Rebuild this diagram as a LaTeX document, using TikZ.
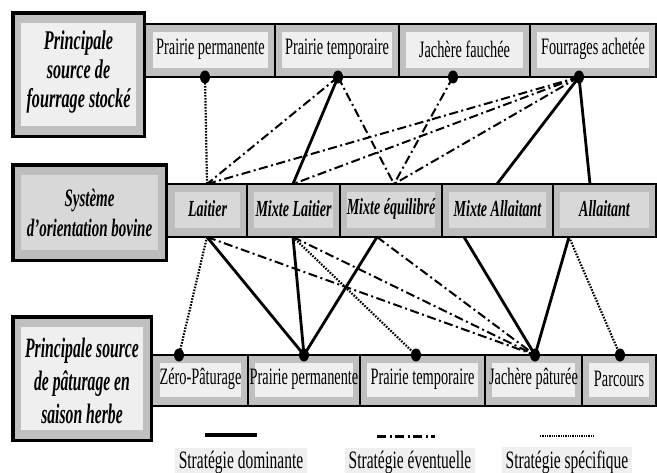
\documentclass[tikz,border=0pt]{standalone}
\usepackage{fontspec}
\setmainfont{Liberation Serif}
\newfontfamily\cf[FakeStretch=0.61]{Liberation Serif}
\newfontfamily\lf[FakeStretch=0.62]{Liberation Serif}
\newfontfamily\hfa[FakeStretch=0.6]{Liberation Serif}
\newfontfamily\hfb[FakeStretch=0.56]{Liberation Serif}
\usetikzlibrary{shapes.geometric}
\definecolor{band}{HTML}{C0C0C0}
\definecolor{light}{HTML}{EFEFEF}
\definecolor{mband}{HTML}{BDBDBD}
\definecolor{mlight}{HTML}{D8D8D8}
% #1 x1, #2 x2, #3 y1, #4 y2, #5 band, #6 light, #7 name, #8 style, #9 text
\newcommand{\mkcell}[9]{%
  \fill[#5] (#1,#3) rectangle (#2,#4);
  \fill[#6] ({#1+7},{#3+8}) rectangle ({#2-7},{#4-9});
  \node[#8] (#7) at ({(#1+#2)/2},{(#3+#4)/2-1.5}) {#9};
}
% #1 x1, #2 x2, #3 y1, #4 y2, #5 band, #6 light
\newcommand{\mkhead}[6]{%
  \fill[#5] (#1,#3) rectangle (#2,#4);
  \fill[#6] ({#1+10},{#3+12}) rectangle ({#2-10},{#4-12});
  \draw[line width=3.5pt] ({#1+1.75},{#3+1.75}) rectangle ({#2-1.75},{#4-1.75});
}
\begin{document}
\begin{tikzpicture}[x=1pt,y=-1pt,
  dom/.style={line width=2.8pt},
  evt/.style={line width=2pt, dash pattern=on 9pt off 3.5pt on 2pt off 3.5pt},
  spe/.style={line width=2.2pt, dash pattern=on 1.6pt off 1.4pt},
  dot/.style={ellipse, fill=black, minimum width=10pt, minimum height=13pt, inner sep=0pt},
  celltxt/.style={font=\cf\fontsize{23.5}{25}\selectfont, inner sep=0pt},
  midtxt/.style={font=\cf\bfseries\itshape\fontsize{23}{25}\selectfont, inner sep=0pt},
  headA/.style={align=center, inner sep=0pt, font=\hfa\bfseries\itshape\fontsize{27}{29}\selectfont},
  headB/.style={align=center, inner sep=0pt, font=\hfa\bfseries\itshape\fontsize{25}{30}\selectfont},
  headC/.style={align=center, inner sep=0pt, font=\hfb\bfseries\itshape\fontsize{28}{33}\selectfont},
  legtxt/.style={fill=light, font=\lf\fontsize{25}{27}\selectfont, inner xsep=4pt, inner ysep=3pt, anchor=base},
  stripline/.style={line width=1.6pt},
  divline/.style={line width=1.2pt}
]
\useasboundingbox (0,0) rectangle (657,472);
\fill[white] (0,0) rectangle (657,472);

% ---------- top strip ----------
\mkcell{146}{275}{24}{77}{band}{light}{cPP}{celltxt}{Prairie permanente}
\mkcell{275}{399}{24}{77}{band}{light}{cPT}{celltxt}{Prairie temporaire}
\mkcell{399}{530}{24}{77}{band}{light}{cJF}{celltxt}{Jachère fauchée}
\mkcell{530}{656}{24}{77}{band}{light}{cFA}{celltxt}{Fourrages achetée}
\draw[stripline] (140,24) rectangle (656,77);
\foreach \x in {275,399,530} \draw[divline] (\x,24) -- (\x,77);

% ---------- middle strip ----------
\mkcell{168}{247}{184}{237}{mband}{mlight}{cL}{midtxt}{Laitier}
\mkcell{247}{340}{184}{237}{mband}{mlight}{cML}{midtxt}{Mixte Laitier}
\mkcell{340}{442}{184}{237}{mband}{mlight}{cME}{midtxt}{Mixte équilibré}
\mkcell{442}{553}{184}{237}{mband}{mlight}{cMA}{midtxt}{Mixte Allaitant}
\mkcell{553}{656}{184}{237}{mband}{mlight}{cA}{midtxt}{Allaitant}
\draw[stripline] (160,184) rectangle (656,237);
\foreach \x in {247,340,442,553} \draw[divline] (\x,184) -- (\x,237);

% ---------- bottom strip ----------
\mkcell{153}{248}{355}{406}{band}{light}{cZP}{celltxt}{Zéro-Pâturage}
\mkcell{248}{360}{355}{406}{band}{light}{cBPP}{celltxt}{Prairie permanente}
\mkcell{360}{485}{355}{406}{band}{light}{cBPT}{celltxt}{Prairie temporaire}
\mkcell{485}{582}{355}{406}{band}{light}{cJP}{celltxt}{Jachère pâturée}
\mkcell{582}{656}{355}{406}{band}{light}{cPC}{celltxt}{Parcours}
\draw[stripline] (146,355) rectangle (656,406);
\foreach \x in {248,360,485,582} \draw[divline] (\x,355) -- (\x,406);

% ---------- heading boxes ----------
\mkhead{11}{146}{11}{138}{band}{light}
\node[headA] (hTop) at (78.5,72) {Principale\\source de\\fourrage stocké};
\mkhead{11}{168}{163}{262}{mband}{mlight}
\node[headB] (hMid) at (89.5,213) {Système\\d’orientation bovine};
\mkhead{11}{153}{315}{442}{band}{light}
\node[headC] (hBot) at (82,381) {Principale source\\de pâturage en\\saison herbe};

% ---------- attachment points ----------
\coordinate (tPP) at (205,77);
\coordinate (tPT) at (338,77);
\coordinate (tJF) at (453,77);
\coordinate (tFA) at (579,77);
\coordinate (mLt) at (207,184);
\coordinate (mMLt) at (293,184);
\coordinate (mMEt) at (394,184);
\coordinate (mMAt) at (497,184);
\coordinate (mAt) at (590,184);
\coordinate (mLb) at (207,237);
\coordinate (mMLb) at (293,237);
\coordinate (mMEb) at (377,237);
\coordinate (mMAb) at (464,237);
\coordinate (mAb) at (569,237);
\coordinate (bZP) at (179,355);
\coordinate (bPP) at (304,355);
\coordinate (bPT) at (416,355);
\coordinate (bJP) at (535,355);
\coordinate (bPC) at (620,355);

% ---------- connectors top -> middle ----------
\draw[spe] (tPP) -- (mLt);
\draw[evt] (tPT) -- (mLt);
\draw[dom] (tPT) -- (mMLt);
\draw[evt] (tPT) -- (mMEt);
\draw[evt] (tJF) -- (mMEt);
\draw[evt] (tFA) -- (mLt);
\draw[evt] (tFA) -- (mMLt);
\draw[evt] (tFA) -- (mMEt);
\draw[dom] (tFA) -- (mMAt);
\draw[dom] (tFA) -- (mAt);

% ---------- connectors middle -> bottom ----------
\draw[spe] (mLb) -- (bZP);
\draw[dom] (mLb) -- (bPP);
\draw[evt] (mLb) -- (bJP);
\draw[dom] (mMLb) -- (bPP);
\draw[spe] (mMLb) -- (bPT);
\draw[evt] (mMLb) -- (bJP);
\draw[dom] (mMEb) -- (bPP);
\draw[evt] (mMEb) -- (bJP);
\draw[dom] (mMAb) -- (bJP);
\draw[dom] (mAb) -- (bJP);
\draw[spe] (mAb) -- (bPC);

% ---------- dots ----------
\foreach \p in {tPP,tPT,tJF,tFA,bZP,bPP,bPT,bJP,bPC}
  \node[dot] (d\p) at (\p) {};

% ---------- legend ----------
\coordinate (lgAa) at (205,435); \coordinate (lgAb) at (257,435);
\coordinate (lgBa) at (377,436); \coordinate (lgBb) at (435,436);
\coordinate (lgCa) at (540,436); \coordinate (lgCb) at (595,436);
\draw[line width=4pt] (lgAa) -- (lgAb);
\draw[line width=3pt, dash pattern=on 9pt off 3.5pt on 2pt off 3.5pt] (lgBa) -- (lgBb);
\draw[line width=2pt, dash pattern=on 1.3pt off 1pt] (lgCa) -- (lgCb);
\node[legtxt] (lgA) at (241,468) {Stratégie dominante};
\node[legtxt] (lgB) at (410,468) {Stratégie éventuelle};
\node[legtxt] (lgC) at (567,468) {Stratégie spécifique};
\end{tikzpicture}
\end{document}
